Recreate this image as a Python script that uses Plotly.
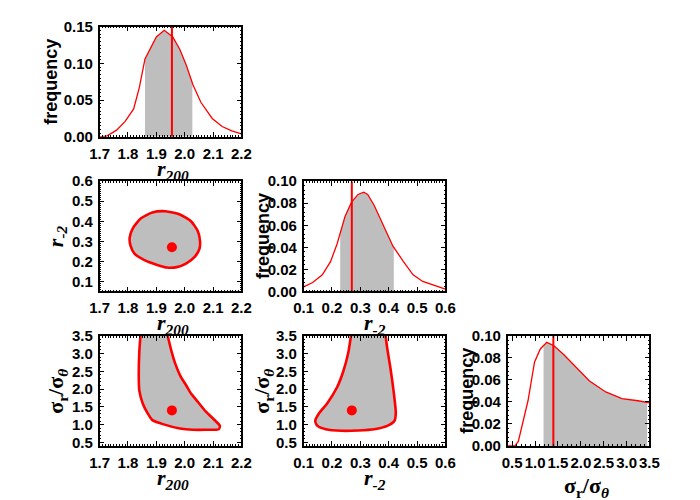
import numpy as np
import plotly.graph_objects as go

# ---------------- data ----------------
r200_grid = [1.70, 1.725, 1.76, 1.79, 1.82, 1.84, 1.86, 1.90, 1.928, 1.958,
             1.983, 2.006, 2.029, 2.057, 2.097, 2.132, 2.166, 2.20]
r200_freq = [0.000, 0.001, 0.009, 0.021, 0.038, 0.067, 0.106, 0.136, 0.145, 0.136,
             0.119, 0.097, 0.071, 0.047, 0.025, 0.014, 0.008, 0.004]

rm2_grid = [0.10, 0.132, 0.166, 0.195, 0.218, 0.246, 0.269, 0.292, 0.312, 0.326,
            0.349, 0.383, 0.415, 0.452, 0.486, 0.520, 0.566, 0.60]
rm2_freq = [0.004, 0.008, 0.015, 0.027, 0.043, 0.068, 0.081, 0.088, 0.090, 0.088,
            0.078, 0.059, 0.041, 0.027, 0.015, 0.009, 0.005, 0.002]

sig_grid = [0.40, 0.56, 0.634, 0.74, 0.846, 0.988, 1.115, 1.256, 1.413, 1.625,
            1.908, 2.19, 2.545, 2.90, 3.25, 3.50]
sig_freq = [0.000, 0.000, 0.004, 0.022, 0.041, 0.076, 0.088, 0.094, 0.091, 0.083,
            0.071, 0.059, 0.049, 0.043, 0.041, 0.039]

# best-fit values
r200_best = 1.955
rm2_best = 0.27
sig_best = 1.40

# credible intervals (shaded)
r200_int = [1.86, 2.027]
rm2_int = [0.229, 0.418]
sig_int = [1.186, 3.45]

# 2D confidence contours
c_r200_rm2_x = [1.932, 1.983, 2.023, 2.046, 2.054, 2.052, 2.035, 2.006, 1.972, 1.937,
                1.903, 1.858, 1.823, 1.809, 1.806, 1.818, 1.846, 1.886]
c_r200_rm2_y = [0.450, 0.434, 0.399, 0.351, 0.302, 0.262, 0.222, 0.190, 0.171, 0.169,
                0.182, 0.206, 0.238, 0.278, 0.319, 0.367, 0.415, 0.444]

c_r200_sig_x = [1.844, 1.840, 1.838, 1.840, 1.852, 1.869, 1.886, 1.926, 1.983, 2.029,
                2.074, 2.120, 2.124, 2.109, 2.074, 2.046, 2.023, 2.006, 1.985, 1.966,
                1.954, 1.940]
c_r200_sig_y = [3.50, 3.046, 2.412, 1.958, 1.596, 1.324, 1.125, 1.006, 0.889, 0.854,
                0.854, 0.870, 0.963, 1.099, 1.371, 1.643, 1.868, 2.094, 2.366, 2.730,
                3.046, 3.50]

c_rm2_sig_x = [0.267, 0.258, 0.240, 0.218, 0.183, 0.155, 0.141, 0.149, 0.178, 0.235,
               0.292, 0.349, 0.395, 0.420, 0.425, 0.417, 0.406, 0.395, 0.389]
c_rm2_sig_y = [3.50, 3.046, 2.502, 2.050, 1.596, 1.324, 1.099, 0.963, 0.870, 0.826,
               0.835, 0.870, 0.963, 1.099, 1.324, 1.958, 2.594, 3.138, 3.50]

# axis ranges / ticks
r200_range = [1.7, 2.2]
rm2_range_x = [0.1, 0.6]
rm2_range_y = [0.05, 0.6]
sig_range = [0.4, 3.5]
freq1_range = [0, 0.15]
freq23_range = [0, 0.10]

RED = "#ff0000"
GRAY = "#bebebe"
W, H = 700, 500

fig = go.Figure()


def px_x(p):
    return p / W


def px_y(p):
    return 1 - p / H


def shade(xs, ys, lo, hi):
    xs = np.asarray(xs, float)
    ys = np.asarray(ys, float)
    inner = (xs > lo) & (xs < hi)
    sx = np.concatenate([[lo], xs[inner], [hi]])
    sy = np.interp(sx, xs, ys)
    return sx, sy


def hist_panel(n, grid, freq, interval, best, yrange):
    xa = "x" if n == 1 else f"x{n}"
    ya = "y" if n == 1 else f"y{n}"
    sx, sy = shade(grid, freq, *interval)
    fig.add_trace(go.Scatter(x=sx, y=sy, mode="lines", fill="tozeroy",
                             fillcolor=GRAY, line=dict(width=0, color="rgba(0,0,0,0)"),
                             xaxis=xa, yaxis=ya, hoverinfo="skip"))
    fig.add_trace(go.Scatter(x=grid, y=freq, mode="lines",
                             line=dict(color=RED, width=1.3),
                             xaxis=xa, yaxis=ya))
    fig.add_trace(go.Scatter(x=[best, best], y=yrange, mode="lines",
                             line=dict(color=RED, width=2),
                             xaxis=xa, yaxis=ya))


def contour_panel(n, cx, cy, bx, by, closed):
    xa = f"x{n}"
    ya = f"y{n}"
    fig.add_trace(go.Scatter(x=cx, y=cy, mode="lines", fill="toself",
                             fillcolor=GRAY, line=dict(width=0, color="rgba(0,0,0,0)",
                                                       shape="spline", smoothing=0.6),
                             xaxis=xa, yaxis=ya, hoverinfo="skip"))
    lx = list(cx) + ([cx[0]] if closed else [])
    ly = list(cy) + ([cy[0]] if closed else [])
    fig.add_trace(go.Scatter(x=lx, y=ly, mode="lines",
                             line=dict(color=RED, width=2.6, shape="spline", smoothing=0.6),
                             xaxis=xa, yaxis=ya))
    fig.add_trace(go.Scatter(x=[bx], y=[by], mode="markers",
                             marker=dict(color=RED, size=10),
                             xaxis=xa, yaxis=ya))


hist_panel(1, r200_grid, r200_freq, r200_int, r200_best, freq1_range)
contour_panel(2, c_r200_rm2_x, c_r200_rm2_y, r200_best, rm2_best, True)
hist_panel(3, rm2_grid, rm2_freq, rm2_int, rm2_best, freq23_range)
contour_panel(4, c_r200_sig_x, c_r200_sig_y, r200_best, sig_best, False)
contour_panel(5, c_rm2_sig_x, c_rm2_sig_y, rm2_best, sig_best, False)
hist_panel(6, sig_grid, sig_freq, sig_int, sig_best, freq23_range)

tickfont = dict(family="Liberation Sans", size=15, color="black", weight="bold")


def ax(rng, dtick, tick0, fmt, dom, anchor, minor_dtick):
    return dict(range=rng, dtick=dtick, tick0=tick0, tickformat=fmt, domain=dom,
                anchor=anchor, showgrid=False, zeroline=False, showline=True,
                linecolor="black", linewidth=1.5, mirror="ticks", ticks="inside",
                ticklen=5, tickwidth=1.2, tickcolor="black", tickfont=tickfont,
                tickangle=0, ticklabelstandoff=2,
                minor=dict(ticks="inside", ticklen=2, tickwidth=1, tickcolor="black",
                           dtick=minor_dtick, showgrid=False))


cols = [[px_x(84), px_x(230)], [px_x(294), px_x(440)], [px_x(504), px_x(650)]]
rows = [[px_y(124), px_y(10)], [px_y(284), px_y(170)], [px_y(444), px_y(330)]]

layout_axes = {
    "xaxis": ax(r200_range, 0.1, 1.7, ".1f", cols[0], "y", 0.01),
    "yaxis": ax(freq1_range, 0.05, 0, ".2f", rows[0], "x", 0.005),
    "xaxis2": ax(r200_range, 0.1, 1.7, ".1f", cols[0], "y2", 0.01),
    "yaxis2": ax(rm2_range_y, 0.1, 0.1, ".1f", rows[1], "x2", 0.01),
    "xaxis3": ax(rm2_range_x, 0.1, 0.1, ".1f", cols[1], "y3", 0.01),
    "yaxis3": ax(freq23_range, 0.02, 0, ".2f", rows[1], "x3", 0.004),
    "xaxis4": ax(r200_range, 0.1, 1.7, ".1f", cols[0], "y4", 0.01),
    "yaxis4": ax(sig_range, 0.5, 0.5, ".1f", rows[2], "x4", 0.1),
    "xaxis5": ax(rm2_range_x, 0.1, 0.1, ".1f", cols[1], "y5", 0.01),
    "yaxis5": ax(sig_range, 0.5, 0.5, ".1f", rows[2], "x5", 0.1),
    "xaxis6": ax(sig_range, 0.5, 0.5, ".1f", cols[2], "y6", 0.1),
    "yaxis6": ax(freq23_range, 0.02, 0, ".2f", rows[2], "x6", 0.004),
}

SANS = "Liberation Sans"
SERIF = "Liberation Serif"
t_freq = "<b>frequency</b>"
t_r200 = "<b><i>r</i><sub><i>200</i></sub></b>"
t_rm2 = "<b><i>r</i><sub><i>-2</i></sub></b>"
t_sig = "<b>σ<sub>r</sub>/σ<sub><i>θ</i></sub></b>"

labels = [
    (t_freq, 34, 67, -90, SANS, 18),
    (t_r200, 160, 158, 0, SERIF, 22),
    (t_rm2, 40, 227, -90, SERIF, 22),
    (t_r200, 160, 318, 0, SERIF, 22),
    (t_freq, 252, 227, -90, SANS, 18),
    (t_rm2, 367, 318, 0, SERIF, 22),
    (t_sig, 40, 387, -90, SERIF, 22),
    (t_r200, 160, 478, 0, SERIF, 22),
    (t_sig, 252, 387, -90, SERIF, 22),
    (t_rm2, 367, 478, 0, SERIF, 22),
    (t_freq, 462, 387, -90, SANS, 18),
    (t_sig, 585, 487, 0, SERIF, 22),
]
annotations = [
    dict(text=t, x=px_x(x), y=px_y(y), xref="paper", yref="paper",
         xanchor="center", yanchor="middle", showarrow=False, textangle=a,
         font=dict(family=f, size=s, color="black"))
    for t, x, y, a, f, s in labels
]

fig.update_layout(width=W, height=H, margin=dict(l=0, r=0, t=0, b=0),
                  paper_bgcolor="white", plot_bgcolor="white", showlegend=False,
                  annotations=annotations, **layout_axes)

fig.write_html("out.html")
